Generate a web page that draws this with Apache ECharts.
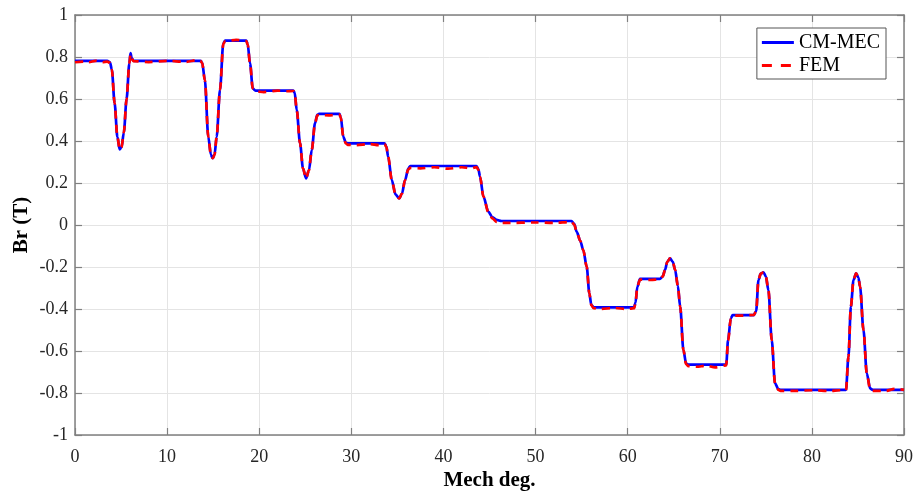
<!DOCTYPE html>
<html>
<head>
<meta charset="utf-8">
<script src="https://cdn.jsdelivr.net/npm/echarts@6/dist/echarts.min.js"></script>
<style>
html,body{margin:0;padding:0;background:#fff;}
#chart{width:919px;height:492px;}
</style>
</head>
<body>
<div id="chart"></div>
<script>
// Data
const cmX = [0,3.5,3.8,4.0,4.3,4.6,4.85,5.05,5.3,5.6,5.9,6.03,6.15,6.35,13.6,13.8,14.1,14.47,14.75,14.95,15.15,15.38,15.74,16.1,16.3,18.6,18.75,19.0,19.3,19.6,23.7,23.85,24.07,24.43,24.75,25.08,25.4,25.7,26.06,26.3,26.5,28.7,28.85,29.13,29.4,29.6,33.6,33.8,34.0,34.39,34.8,35.2,35.5,35.83,36.19,36.4,43.6,43.8,43.97,44.34,44.88,45.3,45.78,46.3,53.9,54.2,54.46,54.85,55.18,55.55,55.84,56.05,56.3,60.7,60.85,61.05,61.34,63.5,63.8,64.06,64.3,64.6,64.9,65.15,65.45,65.7,66.05,66.34,66.6,70.7,70.9,71.2,71.4,73.7,73.95,74.2,74.45,74.74,75.0,75.28,75.64,76.0,76.37,76.6,83.7,83.97,84.23,84.52,84.8,85.05,85.23,85.6,85.96,86.32,86.6,90];
const cmY = [0.782,0.782,0.775,0.74,0.58,0.42,0.36,0.37,0.44,0.6,0.77,0.818,0.795,0.782,0.782,0.775,0.69,0.42,0.335,0.318,0.335,0.42,0.643,0.865,0.878,0.878,0.86,0.77,0.65,0.64,0.64,0.63,0.548,0.39,0.27,0.222,0.26,0.357,0.485,0.525,0.529,0.529,0.515,0.42,0.392,0.389,0.389,0.375,0.325,0.214,0.145,0.127,0.15,0.214,0.27,0.281,0.281,0.265,0.23,0.135,0.063,0.038,0.024,0.019,0.019,0.005,-0.032,-0.075,-0.119,-0.198,-0.325,-0.38,-0.392,-0.392,-0.37,-0.294,-0.257,-0.257,-0.245,-0.214,-0.175,-0.159,-0.175,-0.214,-0.29,-0.389,-0.595,-0.659,-0.665,-0.665,-0.548,-0.444,-0.429,-0.429,-0.41,-0.262,-0.232,-0.225,-0.245,-0.31,-0.548,-0.754,-0.782,-0.785,-0.785,-0.627,-0.389,-0.262,-0.23,-0.25,-0.294,-0.5,-0.706,-0.778,-0.785,-0.785];

const femX = [0,1.0,1.5,2.2,3.0,3.5,3.8,4.0,4.3,4.6,4.85,5.05,5.3,5.6,5.9,6.03,6.15,6.35,8,10,12,13.3,13.6,13.8,14.1,14.47,14.75,14.95,15.15,15.38,15.74,16.1,16.3,17.5,18.6,18.75,19.0,19.3,19.6,20.5,22,23,23.7,23.85,24.07,24.43,24.75,25.08,25.4,25.7,26.06,26.3,26.5,27.5,28.7,28.85,29.13,29.4,29.6,30.5,32,33,33.6,33.8,34.0,34.39,34.8,35.2,35.5,35.83,36.19,36.4,37.5,39,40.5,42,43,43.6,43.8,43.97,44.34,44.88,45.3,45.78,46.3,47,50,52,53.9,54.2,54.46,54.85,55.18,55.55,55.84,56.05,56.3,57,58.5,60,60.7,60.85,61.05,61.34,62.5,63.5,63.8,64.06,64.3,64.6,64.9,65.15,65.45,65.7,66.05,66.34,66.6,67.5,68.5,69.5,70.7,70.9,71.2,71.4,72.5,73.7,73.95,74.2,74.45,74.74,75.0,75.28,75.64,76.0,76.37,76.6,78,80,82,83,83.7,83.97,84.23,84.52,84.8,85.05,85.23,85.6,85.96,86.32,86.6,88,89,90];
const femY = [0.775,0.778,0.775,0.782,0.775,0.778,0.772,0.74,0.58,0.42,0.36,0.37,0.44,0.6,0.77,0.812,0.792,0.78,0.776,0.782,0.777,0.785,0.782,0.772,0.69,0.42,0.335,0.318,0.335,0.42,0.643,0.862,0.875,0.882,0.876,0.858,0.77,0.65,0.636,0.633,0.64,0.637,0.638,0.628,0.548,0.39,0.27,0.222,0.26,0.357,0.485,0.522,0.524,0.522,0.526,0.512,0.42,0.388,0.382,0.38,0.385,0.38,0.386,0.372,0.325,0.214,0.145,0.127,0.15,0.214,0.265,0.272,0.27,0.275,0.268,0.275,0.27,0.276,0.262,0.23,0.135,0.06,0.032,0.015,0.01,0.01,0.012,0.01,0.015,0.002,-0.032,-0.075,-0.119,-0.198,-0.325,-0.382,-0.396,-0.4,-0.395,-0.4,-0.396,-0.372,-0.294,-0.26,-0.262,-0.258,-0.246,-0.214,-0.175,-0.159,-0.175,-0.214,-0.29,-0.389,-0.595,-0.662,-0.672,-0.675,-0.67,-0.678,-0.668,-0.55,-0.446,-0.432,-0.432,-0.428,-0.41,-0.262,-0.232,-0.225,-0.245,-0.31,-0.548,-0.754,-0.785,-0.79,-0.79,-0.787,-0.79,-0.787,-0.786,-0.627,-0.389,-0.262,-0.23,-0.25,-0.294,-0.5,-0.706,-0.782,-0.79,-0.79,-0.78,-0.785];

const seriesNames = ['CM-MEC', 'FEM'];
const yTickLabels = ['-1','-0.8','-0.6','-0.4','-0.2','0','0.2','0.4','0.6','0.8','1'];

const zip = (xs, ys) => xs.map((x, i) => [x, ys[i]]);

const axisColor = '#808080';
const gridColor = '#e4e4e4';
const font = 'Liberation Serif';

const boxAxis = {
  axisLine: {show: true, onZero: false, lineStyle: {color: axisColor, width: 1.5}},
  axisTick: {show: true, inside: true, length: 7, lineStyle: {color: axisColor, width: 1.2}}
};

const chart = echarts.init(document.getElementById('chart'), null, {renderer: 'canvas'});
chart.setOption({
  animation: false,
  backgroundColor: '#ffffff',
  grid: {left: 75, right: 15, top: 15, bottom: 57, containLabel: false, outerBoundsMode: 'none'},
  legend: {
    orient: 'vertical',
    right: 33,
    top: 28,
    data: [
      {name: seriesNames[0], icon: 'path://M0,0h32v3h-32z'},
      {name: seriesNames[1], icon: 'path://M0,0h10v3h-10z M19,0h10v3h-10z M31.9,0h0.1v0.1h-0.1z'}
    ],
    backgroundColor: '#ffffff',
    borderColor: '#555555',
    borderWidth: 1,
    borderRadius: 0,
    padding: [4, 6, 3, 5],
    itemGap: 2,
    itemWidth: 32,
    itemHeight: 3,
    symbolKeepAspect: false,
    textStyle: {fontFamily: font, fontSize: 20, color: '#000000', lineHeight: 21}
  },
  xAxis: [Object.assign({
    type: 'value', position: 'bottom', min: 0, max: 90, interval: 10,
    axisLabel: {fontFamily: font, fontSize: 18, color: '#262626', margin: 13},
    splitLine: {show: true, lineStyle: {color: gridColor, width: 1}},
    name: 'Mech deg.', nameLocation: 'middle', nameGap: 35, nameMoveOverlap: false,
    nameTextStyle: {fontFamily: font, fontSize: 21, fontWeight: 'bold', color: '#000000'}
  }, boxAxis), Object.assign({
    type: 'value', position: 'top', min: 0, max: 90, interval: 10,
    axisLabel: {show: false},
    splitLine: {show: false}
  }, boxAxis)],
  yAxis: [Object.assign({
    type: 'value', position: 'left', min: -1, max: 1, interval: 0.2,
    axisLabel: {fontFamily: font, fontSize: 18, color: '#262626', margin: 7,
      formatter: (v) => yTickLabels[Math.round((v + 1) / 0.2)]},
    splitLine: {show: true, lineStyle: {color: gridColor, width: 1}},
    name: 'Br (T)', nameLocation: 'middle', nameGap: 43, nameMoveOverlap: false,
    nameTextStyle: {fontFamily: font, fontSize: 21, fontWeight: 'bold', color: '#000000'}
  }, boxAxis), Object.assign({
    type: 'value', position: 'right', min: -1, max: 1, interval: 0.2,
    axisLabel: {show: false},
    splitLine: {show: false}
  }, boxAxis)],
  series: [{
    name: seriesNames[0], type: 'line', xAxisIndex: 0, yAxisIndex: 0,
    data: zip(cmX, cmY), showSymbol: false, symbol: 'none',
    smooth: 0.3, smoothMonotone: 'x',
    lineStyle: {color: '#0000ff', width: 2.7},
    itemStyle: {color: '#0000ff'}, z: 2
  }, {
    name: seriesNames[1], type: 'line', xAxisIndex: 0, yAxisIndex: 0,
    data: zip(femX, femY), showSymbol: false, symbol: 'none',
    smooth: 0.3, smoothMonotone: 'x',
    lineStyle: {color: '#ff0000', width: 2.7, type: [8, 6]},
    itemStyle: {color: '#ff0000'}, z: 3
  }]
});
</script>
</body>
</html>
